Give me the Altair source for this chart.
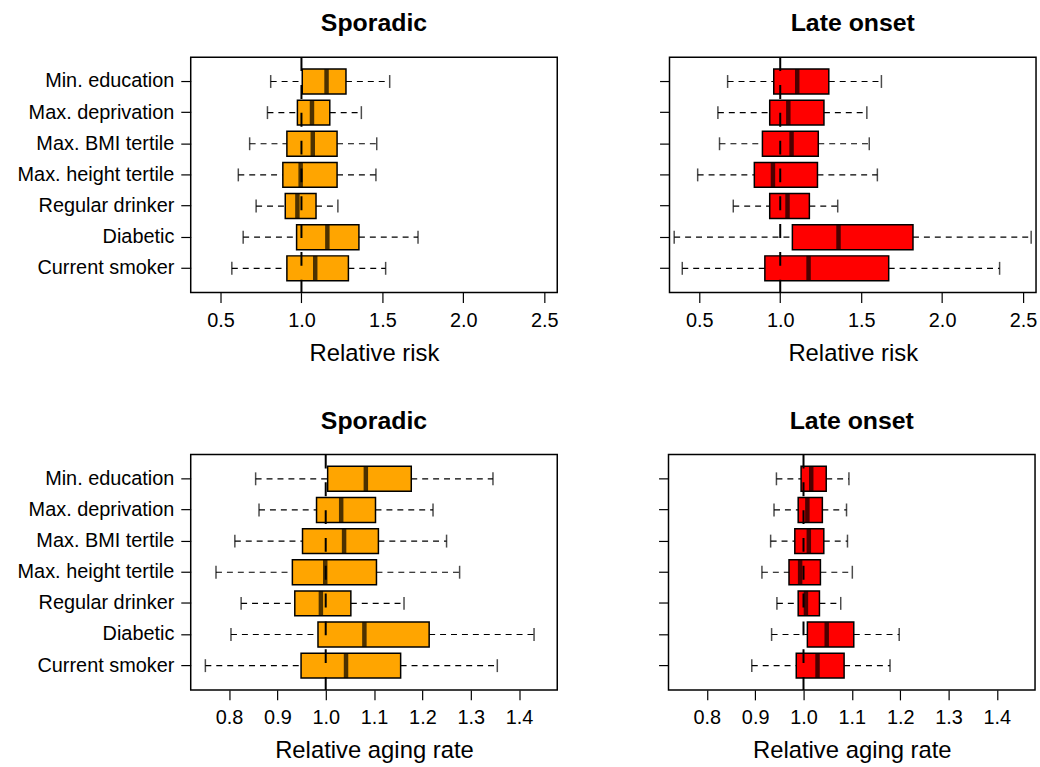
import altair as alt
import pandas as pd

categories = ["Min. education", "Max. deprivation", "Max. BMI tertile",
              "Max. height tertile", "Regular drinker", "Diabetic", "Current smoker"]

# Sporadic - relative risk
sr_lo = [0.81, 0.79, 0.68, 0.61, 0.72, 0.64, 0.57]
sr_q1 = [1.005, 0.975, 0.91, 0.885, 0.90, 0.97, 0.91]
sr_med = [1.155, 1.065, 1.07, 0.995, 0.975, 1.16, 1.085]
sr_q3 = [1.275, 1.175, 1.22, 1.22, 1.09, 1.355, 1.29]
sr_hi = [1.545, 1.37, 1.465, 1.46, 1.225, 1.72, 1.52]

# Late onset - relative risk
lr_lo = [0.675, 0.615, 0.625, 0.49, 0.71, 0.345, 0.395]
lr_q1 = [0.96, 0.935, 0.89, 0.84, 0.935, 1.075, 0.905]
lr_med = [1.105, 1.05, 1.07, 0.955, 1.045, 1.36, 1.175]
lr_q3 = [1.30, 1.27, 1.235, 1.23, 1.18, 1.82, 1.67]
lr_hi = [1.625, 1.535, 1.55, 1.60, 1.355, 2.55, 2.355]

# Sporadic - relative aging rate
sa_lo = [0.855, 0.862, 0.812, 0.773, 0.825, 0.804, 0.751]
sa_q1 = [1.004, 0.981, 0.952, 0.931, 0.936, 0.984, 0.949]
sa_med = [1.083, 1.032, 1.038, 0.999, 0.990, 1.080, 1.042]
sa_q3 = [1.177, 1.103, 1.109, 1.105, 1.052, 1.214, 1.155]
sa_hi = [1.346, 1.222, 1.250, 1.277, 1.162, 1.431, 1.355]

# Late onset - relative aging rate
la_lo = [0.944, 0.939, 0.932, 0.914, 0.945, 0.934, 0.893]
la_q1 = [0.995, 0.989, 0.982, 0.970, 0.989, 1.008, 0.985]
la_med = [1.016, 1.008, 1.011, 0.993, 1.005, 1.048, 1.029]
la_q3 = [1.047, 1.039, 1.042, 1.035, 1.033, 1.104, 1.084]
la_hi = [1.094, 1.089, 1.091, 1.101, 1.077, 1.198, 1.179]

risk_ticks = [0.5, 1.0, 1.5, 2.0, 2.5]
rate_ticks = [0.8, 0.9, 1.0, 1.1, 1.2, 1.3, 1.4]
risk_domain = [0.316, 2.58]
rate_domain = [0.7207, 1.479]

FONT = "Liberation Sans"
W, H = 369, 237


def panel(lo, q1, med, q3, hi, title, xtitle, color, domain, ticks, show_labels):
    df = pd.DataFrame({"cat": categories, "lo": lo, "q1": q1, "med": med,
                       "q3": q3, "hi": hi})
    base = alt.Chart(df)
    xscale = alt.Scale(domain=domain, nice=False, zero=False)
    xaxis = alt.Axis(values=ticks, format=".1f", title=xtitle, grid=False,
                     domain=False, tickSize=10, tickColor="black",
                     tickWidth=1.2, labelPadding=8, titlePadding=11)
    yaxis = alt.Axis(title=None, labels=show_labels, grid=False, domain=False,
                     tickSize=10, tickColor="black", tickWidth=1.2,
                     labelPadding=7)
    yscale = alt.Scale(paddingInner=0.2, paddingOuter=0.38)
    y = alt.Y("cat:N", sort=categories, scale=yscale, axis=yaxis)
    yc = alt.Y("cat:N", sort=categories, scale=yscale, axis=yaxis, bandPosition=0.5)

    w1 = base.mark_rule(color="black", strokeWidth=1.2, strokeDash=[6, 5]).encode(
        x=alt.X("lo:Q", scale=xscale, axis=xaxis), x2="q1:Q", y=yc)
    w2 = base.mark_rule(color="black", strokeWidth=1.2, strokeDash=[6, 5]).encode(
        x=alt.X("q3:Q", scale=xscale, axis=xaxis), x2="hi:Q", y=yc)
    cap1 = base.mark_tick(color="black", size=13, thickness=1.5).encode(
        x=alt.X("lo:Q", scale=xscale, axis=xaxis), y=yc)
    cap2 = base.mark_tick(color="black", size=13, thickness=1.5).encode(
        x=alt.X("hi:Q", scale=xscale, axis=xaxis), y=yc)
    box = base.mark_bar(color=color, stroke="black", strokeWidth=1.5).encode(
        x=alt.X("q1:Q", scale=xscale, axis=xaxis), x2="q3:Q", y=y)
    medt = base.mark_tick(color="black", size=25, thickness=4.5).encode(
        x=alt.X("med:Q", scale=xscale, axis=xaxis), y=yc)
    vline = alt.Chart(pd.DataFrame({"v": [1.0]})).mark_rule(
        color="black", strokeWidth=2, strokeDash=[14, 14]).encode(
        x=alt.X("v:Q", scale=xscale, axis=xaxis))
    return alt.layer(w1, w2, cap1, cap2, box, medt, vline).properties(
        width=W, height=H,
        title=alt.TitleParams(title, fontSize=25, fontWeight="bold", font=FONT,
                              offset=20, anchor="middle", color="black"))


p1 = panel(sr_lo, sr_q1, sr_med, sr_q3, sr_hi, "Sporadic", "Relative risk",
           "#FFA500", risk_domain, risk_ticks, True)
p2 = panel(lr_lo, lr_q1, lr_med, lr_q3, lr_hi, "Late onset", "Relative risk",
           "#FF0000", risk_domain, risk_ticks, False)
p3 = panel(sa_lo, sa_q1, sa_med, sa_q3, sa_hi, "Sporadic", "Relative aging rate",
           "#FFA500", rate_domain, rate_ticks, True)
p4 = panel(la_lo, la_q1, la_med, la_q3, la_hi, "Late onset", "Relative aging rate",
           "#FF0000", rate_domain, rate_ticks, False)

chart = alt.vconcat(
    alt.hconcat(p1, p2, spacing=99),
    alt.hconcat(p3, p4, spacing=99),
    spacing=42,
).properties(
    padding={"left": 16, "top": 8, "right": 2, "bottom": 2},
    background="white",
).configure_view(
    stroke="black", strokeWidth=1.5
).configure_axis(
    labelFont=FONT, titleFont=FONT, labelFontSize=20, titleFontSize=24,
    labelColor="black", titleColor="black", titleFontWeight="normal"
)

chart.save("out.html", embed_options={"renderer": "svg", "actions": False})
